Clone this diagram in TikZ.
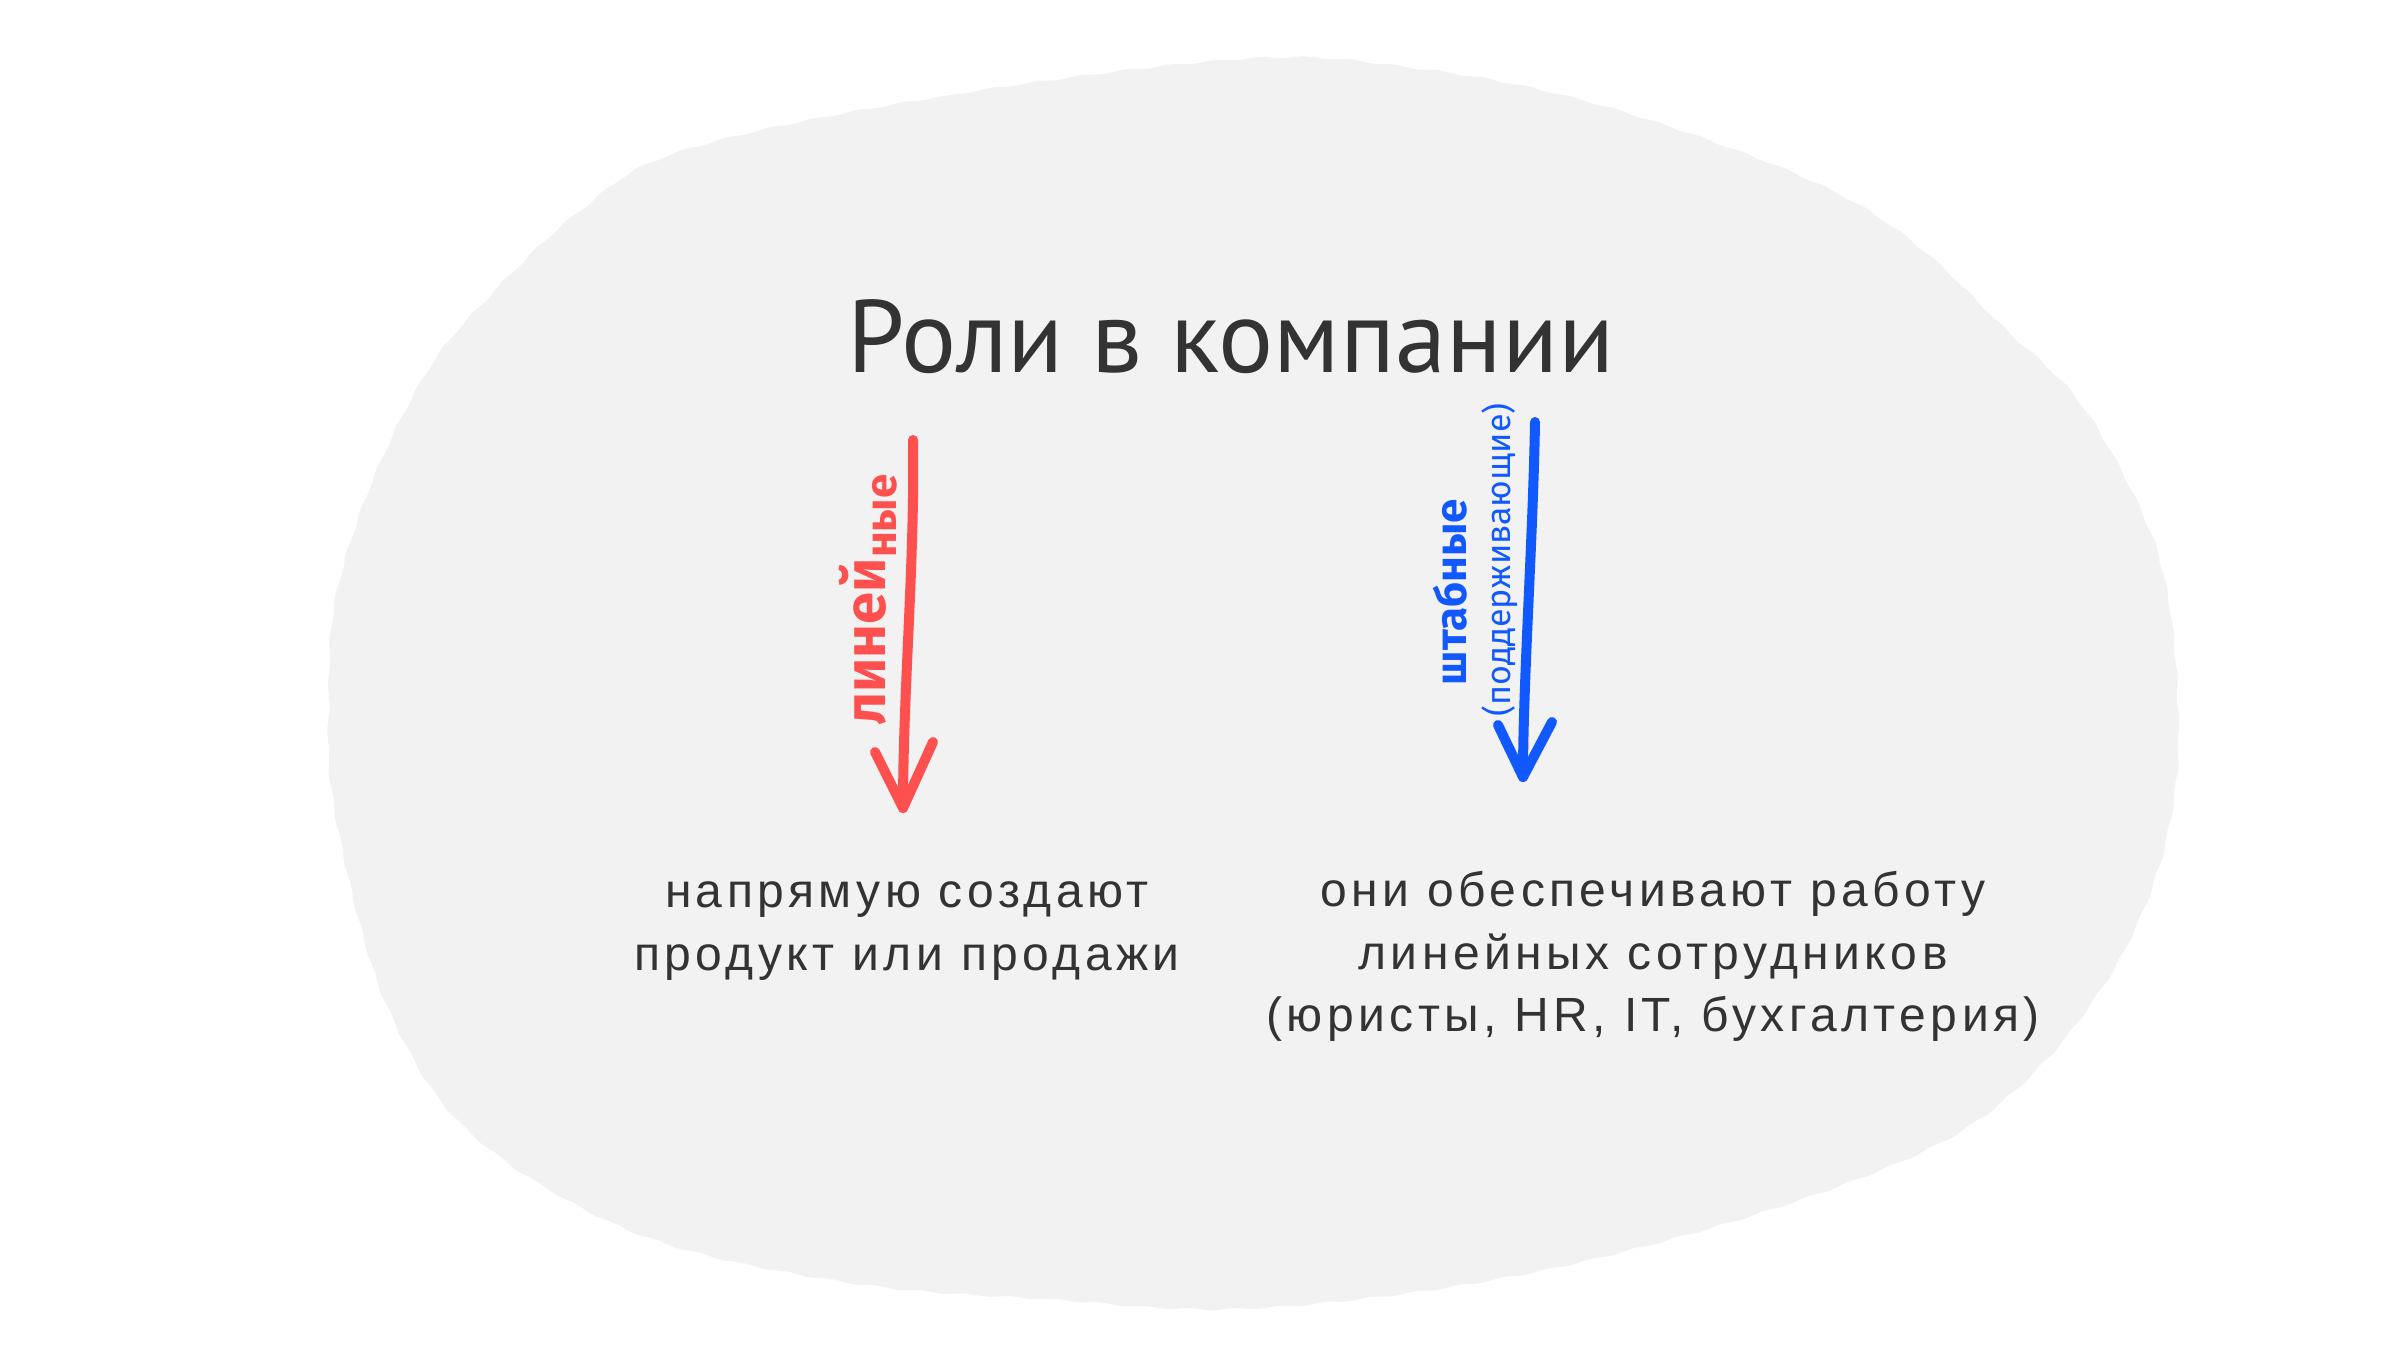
\documentclass[tikz,border=0pt]{standalone}
\usepackage{fontspec}
\setmainfont{Liberation Sans}
\newfontfamily\handfont{Fira Sans}
\newfontfamily\titlefont{PT Sans}
\usetikzlibrary{decorations.pathmorphing}
\definecolor{blobgray}{HTML}{F2F2F2}
\definecolor{ink}{HTML}{333333}
\definecolor{redink}{HTML}{FF5050}
\definecolor{blueink}{HTML}{1158FF}
\begin{document}
\begin{tikzpicture}[x=1pt,y=-1pt,
  bodytext/.style={text=ink, font=\fontsize{48}{58}\selectfont\addfontfeature{LetterSpace=9.3}, anchor=base, inner sep=0pt},
  titletext/.style={text=ink, font=\titlefont\fontsize{103}{110}\selectfont, anchor=base, inner sep=0pt},
  arrowline/.style={line width=10pt, line cap=round, line join=round},
  sidelabel/.style={rotate=90, anchor=base, inner sep=0pt},
]
\useasboundingbox[fill=white] (0,0) rectangle (2398,1349);
\fill[blobgray, decorate, decoration={snake, amplitude=0.9pt, segment length=45pt}]
  plot[smooth cycle, tension=0.6] coordinates {
  (1257,57) (938,97) (690,150) (590,210) (502,293) (440,367) (382,483) (346,600)
  (340,700) (343,791) (374,934) (410,1030) (466,1116) (560,1188) (686,1245)
  (874,1283) (1065,1298) (1257,1307) (1506,1278) (1740,1221) (1936,1149)
  (2038,1078) (2116,982) (2163,887) (2186,791) (2189,700) (2180,600) (2156,517)
  (2092,402) (2014,325) (1935,249) (1855,195) (1738,145) (1584,96) (1430,67)};

\node[titletext] (title) at (1231,372) {Роли в компании};

% red arrow
\coordinate (rtop) at (913,440);
\coordinate (rtip) at (903,808);
\coordinate (rl) at (875,752);
\coordinate (rr) at (933,742);
\draw[arrowline, redink] (rtop) .. controls (915,560) and (903,690) .. (rtip);
\draw[arrowline, redink] (rl) -- (rtip) -- (rr);
\node[sidelabel, text=redink] (lin) at (885,600)
  {\handfont\bfseries\fontsize{58}{58}\selectfont линей\fontsize{44}{44}\selectfont\raisebox{-11pt}{ные}};

% blue arrow
\coordinate (btop) at (1535,422);
\coordinate (btip) at (1523,777);
\coordinate (bl) at (1498,725);
\coordinate (br) at (1552,722);
\draw[arrowline, blueink] (btop) .. controls (1533,540) and (1523,680) .. (btip);
\draw[arrowline, blueink] (bl) -- (btip) -- (br);
\node[sidelabel, text=blueink] (shtab) at (1466,592)
  {\handfont\bfseries\fontsize{44}{44}\selectfont штабные};
\node[sidelabel, text=blueink] (podd) at (1510,560)
  {\handfont\fontsize{34}{34}\selectfont (поддерживающие)};

% body text
\node[bodytext] (l1) at (907,907) {напрямую создают};
\node[bodytext] (l2) at (907,970) {продукт или продажи};
\node[bodytext] (r1) at (1653,906) {они обеспечивают работу};
\node[bodytext] (r2) at (1653,969) {линейных сотрудников};
\node[bodytext] (r3) at (1653,1031) {(юристы, HR, IT, бухгалтерия)};
\end{tikzpicture}
\end{document}
